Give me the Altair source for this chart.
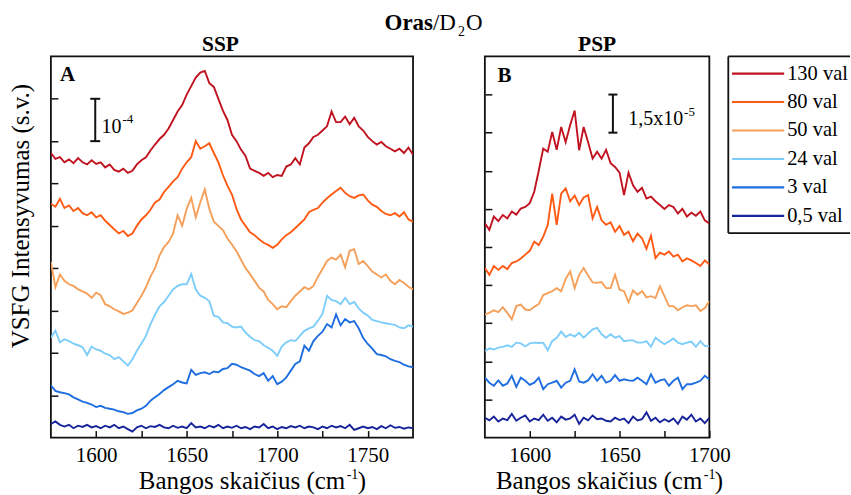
import altair as alt
import pandas as pd

FONT = "Liberation Serif, DejaVu Serif"
INK = "#111111"

SERIES = ["130 val", "80 val", "50 val", "24 val", "3 val", "0,5 val"]
COLORS = ["#c1121f", "#ff5a14", "#f5a05a", "#7dcdfa", "#1e6ee0", "#16239a"]

SSP_START, SSP_STEP = 1575.0, 2.5
ssp_130 = [6.72, 6.58, 6.62, 6.50, 6.57, 6.48, 6.60, 6.50, 6.45, 6.55,
           6.46, 6.50, 6.38, 6.45, 6.32, 6.28, 6.35, 6.25, 6.30, 6.45,
           6.55, 6.62, 6.78, 6.92, 7.05, 7.15, 7.30, 7.50, 7.70, 7.85,
           8.10, 8.30, 8.50, 8.62, 8.66, 8.37, 8.28, 8.00, 7.72, 7.50,
           7.15, 7.00, 6.80, 6.65, 6.35, 6.30, 6.25, 6.18, 6.25, 6.15,
           6.20, 6.18, 6.40, 6.45, 6.60, 6.45, 6.85, 6.95, 7.10, 7.15,
           7.25, 7.35, 7.70, 7.45, 7.45, 7.58, 7.40, 7.55, 7.35, 7.25,
           7.10, 7.00, 6.92, 6.98, 6.88, 6.82, 6.76, 6.82, 6.72, 6.85,
           6.68]
ssp_80 = [5.52, 5.45, 5.64, 5.42, 5.48, 5.35, 5.42, 5.30, 5.25, 5.32,
          5.20, 5.25, 5.12, 5.02, 4.92, 4.82, 4.88, 4.76, 4.82, 5.00,
          5.15, 5.25, 5.38, 5.55, 5.62, 5.80, 5.92, 6.05, 6.15, 6.35,
          6.50, 6.62, 7.00, 6.82, 6.88, 6.95, 6.72, 6.50, 6.20, 5.95,
          5.74, 5.40, 5.15, 5.00, 4.85, 4.78, 4.68, 4.60, 4.55, 4.48,
          4.55, 4.68, 4.78, 4.85, 4.95, 5.05, 5.15, 5.32, 5.38, 5.42,
          5.55, 5.65, 5.74, 5.82, 5.90, 5.78, 5.70, 5.66, 5.72, 5.74,
          5.60, 5.50, 5.45, 5.35, 5.28, 5.25, 5.30, 5.22, 5.32, 5.15,
          5.10]
ssp_50 = [4.15, 3.55, 3.85, 3.70, 3.62, 3.58, 3.50, 3.45, 3.40, 3.30,
          3.42, 3.36, 3.15, 3.10, 3.03, 2.98, 2.92, 2.95, 3.00, 3.18,
          3.35, 3.55, 3.80, 4.00, 4.30, 4.50, 4.62, 4.82, 5.25, 5.00,
          5.40, 5.66, 5.20, 5.55, 5.86, 5.40, 5.10, 5.00, 4.90, 4.70,
          4.56, 4.40, 4.20, 4.00, 3.86, 3.70, 3.54, 3.45, 3.25, 3.15,
          3.03, 3.10, 3.08, 3.22, 3.35, 3.45, 3.55, 3.50, 3.58, 3.80,
          3.98, 4.17, 4.25, 4.20, 4.32, 4.02, 4.41, 4.45, 4.10, 4.17,
          4.05, 3.92, 3.85, 3.78, 3.85, 3.70, 3.62, 3.72, 3.65, 3.56,
          3.50]
ssp_24 = [2.36, 2.52, 2.25, 2.32, 2.28, 2.22, 2.18, 2.13, 1.95, 2.15,
          2.08, 2.05, 1.98, 1.95, 1.85, 1.90, 1.80, 1.70, 1.85, 2.05,
          2.22, 2.40, 2.68, 2.90, 3.10, 3.20, 3.35, 3.50, 3.58, 3.62,
          3.62, 3.86, 3.50, 3.35, 3.30, 3.22, 2.88, 2.85, 2.72, 2.70,
          2.62, 2.60, 2.62, 2.48, 2.38, 2.30, 2.28, 2.18, 2.12, 2.05,
          1.93, 2.15, 2.25, 2.30, 2.28, 2.40, 2.52, 2.58, 2.62, 2.76,
          2.92, 3.35, 3.25, 3.22, 3.15, 3.30, 3.15, 3.20, 3.05, 2.95,
          2.88, 2.78, 2.75, 2.72, 2.70, 2.68, 2.66, 2.60, 2.58, 2.65,
          2.62]
ssp_3 = [1.23, 1.10, 1.07, 1.05, 1.02, 0.95, 0.90, 0.85, 0.82, 0.78,
         0.72, 0.75, 0.70, 0.68, 0.66, 0.62, 0.60, 0.56, 0.58, 0.64,
         0.68, 0.75, 0.87, 0.95, 1.03, 1.12, 1.19, 1.26, 1.34, 1.30,
         1.28, 1.60, 1.48, 1.52, 1.54, 1.50, 1.56, 1.54, 1.62, 1.64,
         1.74, 1.72, 1.66, 1.62, 1.58, 1.50, 1.45, 1.52, 1.34, 1.45,
         1.26, 1.32, 1.42, 1.58, 1.74, 1.80, 2.17, 2.05, 2.28, 2.40,
         2.50, 2.68, 2.60, 2.91, 2.65, 2.80, 2.72, 2.75, 2.58, 2.35,
         2.21, 2.10, 1.97, 1.95, 1.92, 1.85, 1.81, 1.78, 1.72, 1.68,
         1.66]
ssp_05 = [0.32, 0.38, 0.30, 0.26, 0.30, 0.22, 0.28, 0.25, 0.30, 0.24,
          0.27, 0.22, 0.28, 0.24, 0.30, 0.22, 0.26, 0.20, 0.14, 0.24,
          0.28, 0.22, 0.27, 0.25, 0.30, 0.24, 0.22, 0.28, 0.23, 0.26,
          0.22, 0.34, 0.24, 0.26, 0.22, 0.28, 0.24, 0.30, 0.22, 0.26,
          0.23, 0.28, 0.22, 0.25, 0.20, 0.26, 0.24, 0.32, 0.22, 0.26,
          0.20, 0.25, 0.22, 0.27, 0.24, 0.28, 0.22, 0.26, 0.24, 0.20,
          0.26, 0.22, 0.28, 0.24, 0.27, 0.22, 0.30, 0.18, 0.22, 0.26,
          0.22, 0.25, 0.20, 0.27, 0.22, 0.29, 0.23, 0.25, 0.21, 0.24,
          0.22]

PSP_START, PSP_STEP = 1575.0, 2.5
psp_130 = [5.62, 5.45, 5.80, 5.68, 5.84, 5.75, 5.93, 5.85, 6.01, 6.05,
           6.15, 6.45, 7.00, 7.58, 7.50, 8.02, 7.55, 8.15, 7.75, 8.20,
           8.58, 7.54, 8.15, 7.75, 7.32, 7.50, 7.32, 7.55, 7.20, 7.10,
           6.95, 6.36, 6.95, 6.62, 6.45, 6.55, 6.27, 6.32, 6.20, 6.10,
           6.00, 6.10, 6.05, 5.88, 6.00, 5.80, 5.90, 5.82, 5.93, 5.70,
           5.62]
psp_80 = [4.45, 4.27, 4.50, 4.40, 4.50, 4.42, 4.58, 4.62, 4.70, 4.80,
          4.90, 5.14, 5.05, 5.27, 5.58, 6.40, 5.58, 6.40, 6.54, 6.20,
          6.35, 6.10, 6.30, 6.36, 5.75, 6.05, 5.70, 5.58, 5.65, 5.40,
          5.55, 5.32, 5.40, 5.15, 5.35, 5.23, 4.95, 5.30, 4.71, 4.85,
          4.80, 4.88, 4.75, 4.80, 4.62, 4.70, 4.65, 4.58, 4.50, 4.65,
          4.54]
psp_50 = [3.23, 3.27, 3.34, 3.29, 3.42, 3.27, 3.10, 3.45, 3.49, 3.36,
          3.34, 3.43, 3.50, 3.74, 3.79, 3.84, 3.92, 3.84, 4.16, 4.36,
          3.92, 4.27, 4.45, 4.25, 4.07, 4.06, 4.08, 3.92, 3.92, 4.27,
          3.88, 3.84, 3.55, 3.86, 3.75, 3.84, 3.68, 3.71, 3.66, 3.97,
          3.71, 3.45, 3.45, 3.34, 3.42, 3.47, 3.45, 3.47, 3.32, 3.40,
          3.58]
psp_24 = [2.27, 2.34, 2.31, 2.36, 2.38, 2.42, 2.38, 2.49, 2.47, 2.39,
          2.47, 2.49, 2.48, 2.49, 2.29, 2.53, 2.62, 2.78, 2.64, 2.71,
          2.65, 2.75, 2.62, 2.73, 2.84, 2.88, 2.71, 2.62, 2.71, 2.62,
          2.66, 2.53, 2.55, 2.55, 2.49, 2.49, 2.53, 2.38, 2.62, 2.53,
          2.45, 2.52, 2.60, 2.49, 2.45, 2.49, 2.52, 2.38, 2.53, 2.40,
          2.40]
psp_3 = [1.57, 1.44, 1.36, 1.50, 1.36, 1.42, 1.62, 1.33, 1.57, 1.49,
         1.38, 1.44, 1.57, 1.27, 1.40, 1.44, 1.49, 1.31, 1.44, 1.49,
         1.79, 1.47, 1.44, 1.50, 1.66, 1.49, 1.62, 1.44, 1.49, 1.64,
         1.49, 1.53, 1.50, 1.49, 1.57, 1.49, 1.40, 1.66, 1.44, 1.50,
         1.53, 1.36, 1.49, 1.57, 1.27, 1.40, 1.40, 1.44, 1.49, 1.62,
         1.53]
psp_05 = [0.52, 0.45, 0.55, 0.42, 0.50, 0.46, 0.62, 0.44, 0.52, 0.58,
          0.42, 0.50, 0.46, 0.60, 0.44, 0.52, 0.40, 0.55, 0.47, 0.50,
          0.60, 0.36, 0.52, 0.45, 0.58, 0.48, 0.50, 0.44, 0.42, 0.52,
          0.46, 0.50, 0.38, 0.55, 0.45, 0.48, 0.66, 0.44, 0.52, 0.40,
          0.48, 0.42, 0.50, 0.36, 0.55, 0.47, 0.60, 0.42, 0.50, 0.38,
          0.52]

SSP_X_DOMAIN, SSP_X_TICKS = [1575, 1775], [1600, 1625, 1650, 1675, 1700, 1725, 1750]
PSP_X_DOMAIN, PSP_X_TICKS = [1575, 1700], [1600, 1625, 1650, 1675, 1700]
SSP_Y_DOMAIN, SSP_Y_TICKS = [0, 9], [1, 2, 3, 4, 5, 6, 7, 8]
PSP_Y_DOMAIN, PSP_Y_TICKS = [0, 10], [1, 2, 3, 4, 5, 6, 7, 8, 9]

SSP_BAR = {"w": 1599.5, "lo": 7.0, "hi": 8.0, "cap": 2.75,
           "text": "10", "sup": "-4", "tw": 1614.0, "tv": 7.19, "sv": 7.42}
PSP_BAR = {"w": 1646.3, "lo": 8.0, "hi": 9.0, "cap": 2.5,
           "text": "1,5x10", "sup": "-5", "tw": 1685.4, "tv": 8.21, "sv": 8.45}
SSP_TAG = {"w": 1580.0, "v": 8.41, "t": "A"}
PSP_TAG = {"w": 1582.0, "v": 9.32, "t": "B"}


def spectra_df(start, step, arrays):
    recs = []
    for name, vals in zip(SERIES, arrays):
        for i, val in enumerate(vals):
            recs.append({"w": start + step * i, "v": val, "series": name})
    return pd.DataFrame(recs)


color = alt.Color("series:N", scale=alt.Scale(domain=SERIES, range=COLORS), legend=None)


def txt(text, x, y, size, weight="normal", align="left", baseline="alphabetic", angle=0):
    kw = dict(font=FONT, fontSize=size, fontWeight=weight, align=align,
              baseline=baseline, color="black")
    if angle:
        kw["angle"] = angle
    return alt.Chart(pd.DataFrame({"label": [text]})).mark_text(**kw).encode(
        x=alt.value(x), y=alt.value(y), text="label:N")


def xtitle(end_x, y):
    return [
        txt("Bangos skaičius (cm", end_x, y, 25, align="right"),
        txt("-1", end_x + 1.5, y - 10, 14),
        txt(")", end_x + 12.5, y, 25),
    ]


def panel(df, xdom, xticks, ydom, yticks, width, height, bar, tag, extra):
    xax = alt.Axis(values=xticks, format="d",
                   labelExpr="datum.value % 50 == 0 ? datum.label : ''",
                   labelFlush=False, labelOverlap=False, labelFont=FONT,
                   labelFontSize=21, labelColor="black", labelPadding=7,
                   tickSize=7, offset=-7, tickColor=INK, tickWidth=1.5,
                   domain=False, grid=False, title=None)
    yax = alt.Axis(values=yticks, labels=False, tickSize=7, offset=-7,
                   tickColor=INK, tickWidth=1.5, domain=False, grid=False, title=None)

    def X(f):
        return alt.X(f, type="quantitative",
                     scale=alt.Scale(domain=xdom, nice=False, zero=False), axis=xax)

    def Y(f):
        return alt.Y(f, type="quantitative",
                     scale=alt.Scale(domain=ydom, nice=False, zero=False), axis=yax)

    lines = alt.Chart(df).mark_line(strokeWidth=1.9, clip=True).encode(
        x=X("w"), y=Y("v"), color=color)

    bar_df = pd.DataFrame([{"w": bar["w"], "v": bar["lo"], "v2": bar["hi"]}])
    bar_rule = alt.Chart(bar_df).mark_rule(color=INK, strokeWidth=2).encode(
        x=X("w"), y=Y("v"), y2="v2")
    caps_df = pd.DataFrame([
        {"w": bar["w"] - bar["cap"], "w2": bar["w"] + bar["cap"], "v": bar["lo"]},
        {"w": bar["w"] - bar["cap"], "w2": bar["w"] + bar["cap"], "v": bar["hi"]},
    ])
    caps = alt.Chart(caps_df).mark_rule(color=INK, strokeWidth=2).encode(
        x=X("w"), x2="w2", y=Y("v"))
    bar_txt = alt.Chart(pd.DataFrame([{"w": bar["tw"], "v": bar["tv"], "t": bar["text"]}])).mark_text(
        font=FONT, fontSize=20, align="right", baseline="alphabetic", color="black").encode(
        x=X("w"), y=Y("v"), text="t:N")
    bar_sup = alt.Chart(pd.DataFrame([{"w": bar["tw"], "v": bar["sv"], "t": bar["sup"]}])).mark_text(
        font=FONT, fontSize=13, align="left", baseline="alphabetic", color="black",
        dx=1).encode(x=X("w"), y=Y("v"), text="t:N")
    tag_txt = alt.Chart(pd.DataFrame([tag])).mark_text(
        font=FONT, fontSize=21, fontWeight="bold", align="left", baseline="alphabetic",
        color="black").encode(x=X("w"), y=Y("v"), text="t:N")

    return alt.layer(lines, bar_rule, caps, bar_txt, bar_sup, tag_txt, *extra).properties(
        width=width, height=height)


ssp_df = spectra_df(SSP_START, SSP_STEP, [ssp_130, ssp_80, ssp_50, ssp_24, ssp_3, ssp_05])
psp_df = spectra_df(PSP_START, PSP_STEP, [psp_130, psp_80, psp_50, psp_24, psp_3, psp_05])

ssp_extra = [
    txt("SSP", 170, -5, 21.5, weight="bold", align="center"),
    txt("Oras", 383, -27, 23, weight="bold", align="right"),
    txt("/D", 383, -27, 23),
    txt("2", 408, -20, 14),
    txt("O", 416, -27, 23),
    txt("VSFG Intensyvumas (s.v.)", -21.7, 160, 25, align="center", angle=270),
] + xtitle(295, 434)
psp_extra = [
    txt("PSP", 112.5, -5, 21.5, weight="bold", align="center"),
] + xtitle(218, 434)

ssp = panel(ssp_df, SSP_X_DOMAIN, SSP_X_TICKS, SSP_Y_DOMAIN, SSP_Y_TICKS, 363, 382,
            SSP_BAR, SSP_TAG, ssp_extra)
psp = panel(psp_df, PSP_X_DOMAIN, PSP_X_TICKS, PSP_Y_DOMAIN, PSP_Y_TICKS, 225, 382,
            PSP_BAR, PSP_TAG, psp_extra)

one = pd.DataFrame({"k": [0]})
NO_FRAME = alt.ViewBackground(strokeOpacity=0)

GAP = 19
spacer = alt.Chart(one).mark_point(opacity=0).encode(
    x=alt.value(0), y=alt.value(0)).properties(width=72 - 2 * GAP, height=382, view=NO_FRAME)

LEG_W, LEG_H = 122, 177
leg_df = pd.DataFrame({"series": SERIES})
leg_y = alt.Y("series:N", scale=alt.Scale(type="point", domain=SERIES, padding=0.6), axis=None)
leg_lines = alt.Chart(leg_df).mark_rule(strokeWidth=2.2).encode(
    y=leg_y, x=alt.value(3.7), x2=alt.value(56), color=color)
leg_text = alt.Chart(leg_df).mark_text(font=FONT, fontSize=20.5, align="left",
                                       baseline="middle", color="black").encode(
    y=leg_y, x=alt.value(59), text="series:N")
border_top = alt.Chart(one).mark_rule(color=INK, strokeWidth=1.8).encode(
    x=alt.value(0), x2=alt.value(LEG_W), y=alt.value(0))
border_bot = alt.Chart(one).mark_rule(color=INK, strokeWidth=1.8).encode(
    x=alt.value(0), x2=alt.value(LEG_W), y=alt.value(LEG_H))
border_left = alt.Chart(one).mark_rule(color=INK, strokeWidth=1.8).encode(
    x=alt.value(0), y=alt.value(0), y2=alt.value(LEG_H))
legend = alt.layer(leg_lines, leg_text, border_top, border_bot, border_left).properties(
    width=LEG_W, height=LEG_H, view=NO_FRAME)

chart = alt.hconcat(
    ssp, spacer, psp, legend, spacing=GAP, bounds="flush",
).properties(
    padding={"left": 8, "top": 10, "right": 0, "bottom": 0},
    background="white",
).configure_view(stroke=INK, strokeWidth=1.8)

chart.save("out.html", embed_options={"renderer": "svg", "actions": False})
